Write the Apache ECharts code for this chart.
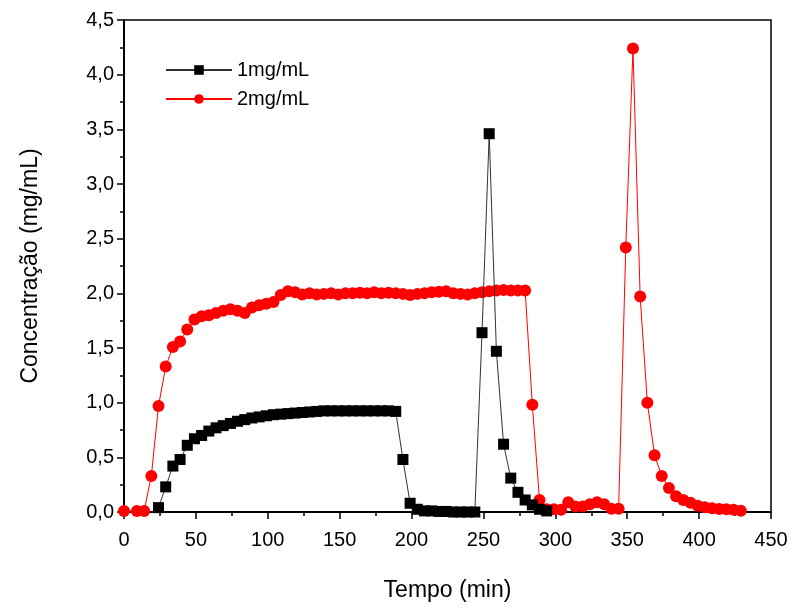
<!DOCTYPE html>
<html>
<head>
<meta charset="utf-8">
<script src="https://cdn.jsdelivr.net/npm/echarts@6/dist/echarts.min.js"></script>
<style>html,body{margin:0;padding:0;background:#fff}#c{width:795px;height:609px}</style>
</head>
<body>
<div id="c"></div>
<script>
// Tempo (min) and concentração (mg/mL) for 1 mg/mL
const time1 = [24,29,34,39,44,49,54,59,64,69,74,79,84,89,94,99,104,109,114,119,124,129,134,139,144,149,154,159,164,169,174,179,184,189,194,199,204,209,214,219,224,229,234,239,244,249,254,259,264,269,274,279,284,289,294];
const conc1 = [0.04,0.23,0.42,0.48,0.61,0.67,0.70,0.74,0.77,0.79,0.81,0.83,0.845,0.86,0.87,0.88,0.89,0.895,0.90,0.905,0.91,0.915,0.92,0.925,0.925,0.925,0.925,0.925,0.925,0.925,0.925,0.925,0.925,0.92,0.48,0.08,0.025,0.01,0.01,0.005,0.005,0,0,0,0,1.64,3.46,1.47,0.62,0.31,0.18,0.11,0.065,0.025,0.01];
// 2 mg/mL
const time2 = [0,9,14,19,24,29,34,39,44,49,54,59,64,69,74,79,84,89,94,99,104,109,114,119,124,129,134,139,144,149,154,159,164,169,174,179,184,189,194,199,204,209,214,219,224,229,234,239,244,249,254,259,264,269,274,279,284,289,294,299,304,309,314,319,324,329,334,339,344,349,354,359,364,369,374,379,384,389,394,399,404,409,414,419,424,429];
const conc2 = [0.01,0.01,0.01,0.33,0.97,1.33,1.51,1.56,1.67,1.76,1.79,1.80,1.82,1.84,1.855,1.84,1.82,1.87,1.89,1.905,1.92,1.985,2.02,2.01,1.99,2.0,1.99,1.995,2.0,1.99,2.0,2.0,2.005,2.0,2.01,2.0,2.005,2.0,1.995,1.985,1.995,2.0,2.01,2.015,2.02,2.0,1.995,1.99,2.0,2.01,2.02,2.025,2.03,2.025,2.025,2.025,0.98,0.11,0.025,0.025,0.02,0.09,0.05,0.05,0.07,0.09,0.07,0.03,0.03,2.42,4.24,1.97,1.00,0.52,0.33,0.22,0.145,0.11,0.085,0.058,0.043,0.034,0.027,0.025,0.02,0.012];
const seriesNames = ['1mg/mL','2mg/mL'];
const xTitle = 'Tempo (min)';
const yTitle = 'Concentração (mg/mL)';

const pairs = (t, c) => t.map((v, i) => [v, c[i]]);
const font = 'Liberation Sans, Arial, sans-serif';
const chart = echarts.init(document.getElementById('c'), null, {renderer: 'canvas'});
chart.setOption({
  animation: false,
  backgroundColor: '#fff',
  grid: {left: 124, right: 24, top: 20, bottom: 97, show: true, borderColor: '#000', borderWidth: 1.5, backgroundColor: 'transparent'},
  legend: {
    data: seriesNames, orient: 'vertical', left: 160, top: 55, itemGap: 9,
    itemWidth: 66, itemHeight: 12,
    textStyle: {fontFamily: font, fontSize: 20, color: '#000'}
  },
  xAxis: {
    type: 'value', min: 0, max: 450, interval: 50,
    name: xTitle, nameLocation: 'middle', nameGap: 67,
    nameTextStyle: {fontFamily: font, fontSize: 23, color: '#000'},
    axisLine: {lineStyle: {color: '#000', width: 2}},
    axisTick: {show: true, length: 7, lineStyle: {color: '#000', width: 1.5}},
    minorTick: {show: true, splitNumber: 2, length: 4, lineStyle: {color: '#000', width: 1.5}},
    axisLabel: {fontFamily: font, fontSize: 20, color: '#000', margin: 18},
    splitLine: {show: false}
  },
  yAxis: {
    type: 'value', min: 0, max: 4.5, interval: 0.5,
    name: yTitle, nameLocation: 'middle', nameGap: 82, nameRotate: 90,
    nameTextStyle: {fontFamily: font, fontSize: 23, color: '#000'},
    axisLine: {show: true, lineStyle: {color: '#000', width: 2}},
    axisTick: {show: true, length: 7, lineStyle: {color: '#000', width: 1.5}},
    minorTick: {show: true, splitNumber: 2, length: 4, lineStyle: {color: '#000', width: 1.5}},
    axisLabel: {fontFamily: font, fontSize: 20, color: '#000', margin: 10,
      formatter: v => v.toFixed(1).replace('.', ',')},
    splitLine: {show: false}
  },
  series: [
    {
      name: seriesNames[0], type: 'line', z: 3,
      data: pairs(time1, conc1),
      symbol: 'rect', symbolSize: 11,
      itemStyle: {color: '#000'},
      lineStyle: {color: '#333', width: 1}
    },
    {
      name: seriesNames[1], type: 'line', z: 2,
      data: pairs(time2, conc2),
      symbol: 'circle', symbolSize: 12,
      itemStyle: {color: '#ff0000'},
      lineStyle: {color: '#ff0000', width: 1}
    }
  ]
});
</script>
</body>
</html>
